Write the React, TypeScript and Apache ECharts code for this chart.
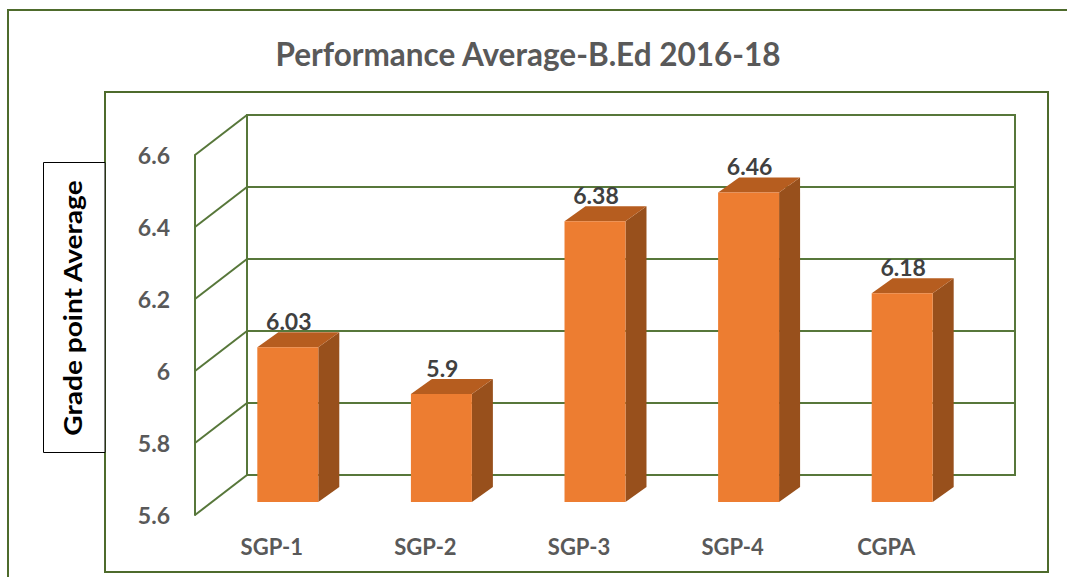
import React, { useEffect, useRef } from "react";
import * as echarts from "echarts";

const categories = ["SGP-1", "SGP-2", "SGP-3", "SGP-4", "CGPA"];
const values = [6.03, 5.9, 6.38, 6.46, 6.18];
const yTicks = [5.6, 5.8, 6.0, 6.2, 6.4, 6.6];
const titleText = "Performance Average-B.Ed 2016-18";
const yName = "Grade point Average";

const Y_MIN = 5.6;
const Y_MAX = 6.6;
const Y_STEP = 0.2;

const GREEN = "#57773a";
const FRAME = "#4e6b2c";
const FONT = "Lato, 'Open Sans', sans-serif";

export default function App() {
  const ref = useRef<HTMLDivElement>(null);

  useEffect(() => {
    if (!ref.current) return;
    const chart = echarts.init(ref.current, undefined, { renderer: "svg" });

    const option: any = {
      animation: false,
      backgroundColor: "#ffffff",
      title: {
        text: titleText,
        left: 523,
        top: 33,
        textAlign: "center",
        textStyle: { fontFamily: FONT, fontSize: 31.5, fontWeight: "bold", color: "#595959" },
      },
      graphic: [
        {
          type: "polyline",
          shape: { points: [[8, 590], [8, 10], [1080, 10]] },
          style: { stroke: FRAME, lineWidth: 2, fill: null },
          z: 1,
        },
        {
          type: "rect",
          shape: { x: 105, y: 92, width: 943, height: 480 },
          style: { stroke: FRAME, lineWidth: 2, fill: null },
          z: 1,
        },
        {
          type: "rect",
          shape: { x: 43.5, y: 162.5, width: 61.5, height: 290 },
          style: { stroke: "#000000", lineWidth: 1, fill: "#ffffff" },
          z: 5,
        },
        {
          type: "text",
          x: 73,
          y: 308,
          rotation: Math.PI / 2,
          scaleX: 1.17,
          style: {
            text: yName,
            align: "center",
            verticalAlign: "middle",
            fontFamily: FONT,
            fontSize: 24,
            fontWeight: "bold",
            fill: "#000000",
          },
          z: 6,
        },
      ],
      grid: [
        { left: 247, top: 115, width: 768, height: 360, show: true, borderColor: GREEN, borderWidth: 2, backgroundColor: "transparent" },
        { left: 195, top: 155, width: 768, height: 360, show: false },
      ],
      xAxis: [
        {
          type: "category",
          gridIndex: 0,
          data: categories,
          axisLine: { show: false },
          axisTick: { show: false },
          axisLabel: { show: false },
          splitLine: { show: false },
        },
        {
          type: "category",
          gridIndex: 1,
          data: categories,
          axisLine: { show: false },
          axisTick: { show: false },
          splitLine: { show: false },
          axisLabel: {
            margin: 20,
            fontFamily: FONT,
            fontSize: 22,
            fontWeight: "bold",
            color: "#595959",
          },
        },
      ],
      yAxis: [
        {
          type: "value",
          gridIndex: 0,
          min: Y_MIN,
          max: Y_MAX,
          interval: Y_STEP,
          axisLine: { show: false },
          axisTick: { show: false },
          axisLabel: { show: false },
          splitLine: { show: true, lineStyle: { color: GREEN, width: 2 } },
        },
        {
          type: "value",
          gridIndex: 1,
          min: Y_MIN,
          max: Y_MAX,
          interval: Y_STEP,
          axisLine: { show: true, lineStyle: { color: GREEN, width: 2 } },
          axisTick: { show: false },
          splitLine: { show: false },
          axisLabel: {
            margin: 25,
            fontFamily: FONT,
            fontSize: 23,
            fontWeight: "bold",
            color: "#595959",
            formatter: (v: number) => String(Math.round(v * 10) / 10),
          },
        },
      ],
      series: [
        {
          type: "custom",
          xAxisIndex: 1,
          yAxisIndex: 1,
          z: 2,
          silent: true,
          data: yTicks.map((v) => [0, v]),
          renderItem: (params: any, api: any) => {
            const cs = params.coordSys;
            const p = api.coord([0, api.value(1)]);
            return {
              type: "line",
              shape: { x1: cs.x, y1: p[1], x2: cs.x + 52, y2: p[1] - 40 },
              style: { stroke: GREEN, lineWidth: 2 },
            };
          },
        },
        {
          type: "custom",
          xAxisIndex: 1,
          yAxisIndex: 1,
          z: 3,
          data: values.map((v, i) => [i, v]),
          renderItem: (params: any, api: any) => {
            const i = api.value(0);
            const v = api.value(1);
            const base = api.coord([i, Y_MIN]);
            const top = api.coord([i, v]);
            const band = api.size([1, 0])[0];
            const w = band * 0.397;
            const cx = base[0] + 16;
            const x0 = cx - w / 2;
            const x1 = cx + w / 2;
            const yb = base[1] - 13;
            const yt = top[1] - 13;
            const dx = 21;
            const dy = -15;
            return {
              type: "group",
              children: [
                {
                  type: "polygon",
                  shape: { points: [[x1, yt], [x1 + dx, yt + dy], [x1 + dx, yb + dy], [x1, yb]] },
                  style: { fill: "#98501c" },
                },
                {
                  type: "polygon",
                  shape: { points: [[x0, yt], [x0 + dx, yt + dy], [x1 + dx, yt + dy], [x1, yt]] },
                  style: { fill: "#b65d1f" },
                },
                {
                  type: "rect",
                  shape: { x: x0, y: yt, width: w, height: yb - yt },
                  style: { fill: "#ed7d31" },
                },
                {
                  type: "text",
                  style: {
                    text: String(v),
                    x: cx + 1,
                    y: yt + dy - 11,
                    align: "center",
                    verticalAlign: "middle",
                    fontFamily: FONT,
                    fontSize: 23,
                    fontWeight: "bold",
                    fill: "#404040",
                  },
                },
              ],
            };
          },
        },
      ],
    };

    chart.setOption(option);
    return () => chart.dispose();
  }, []);

  return (
    <div
      ref={ref}
      style={{ position: "absolute", left: 0, top: 0, width: 1067, height: 577, background: "#fff" }}
    />
  );
}
